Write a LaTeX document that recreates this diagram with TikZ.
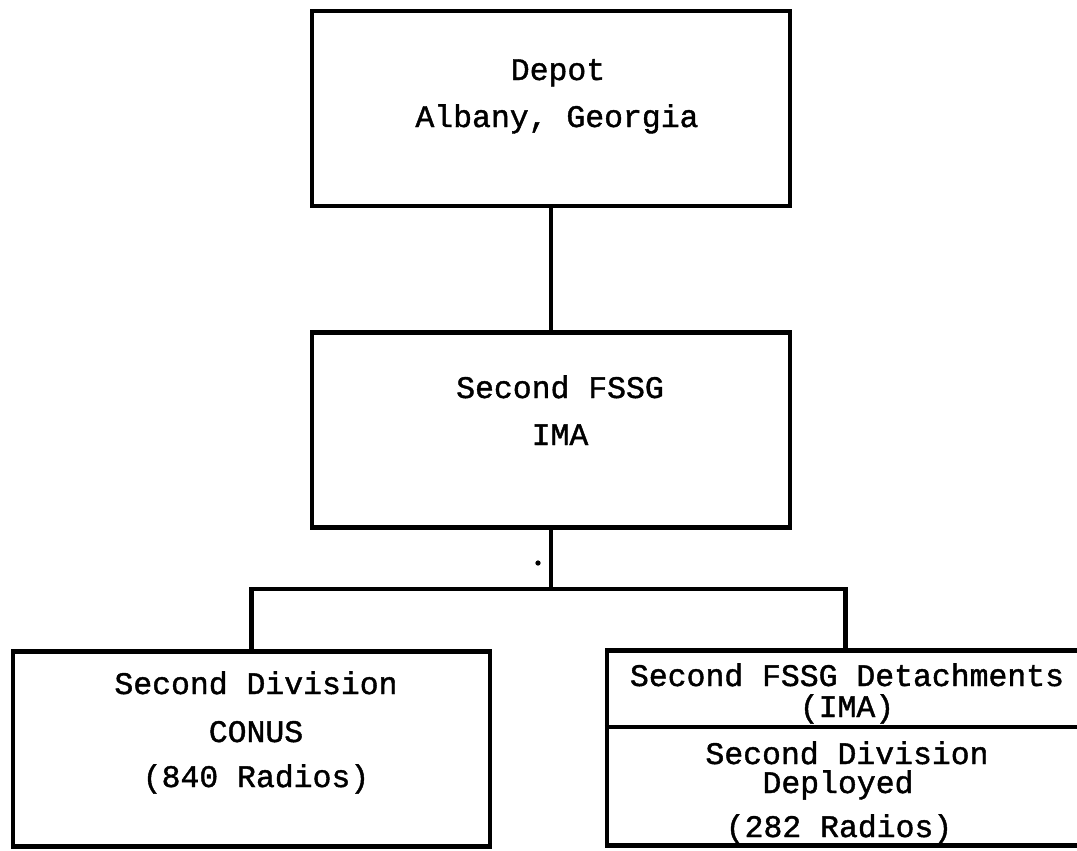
\documentclass[tikz,border=0pt]{standalone}
\usepackage{fontspec}
\usepackage{tikz}
\newfontfamily\typefont{Liberation Mono}[FakeBold=1.3]

\begin{document}
\begin{tikzpicture}[x=0.02cm,y=-0.02cm,
    box/.style={draw,line width=2.6pt,minimum width=9.56cm,minimum height=3.9cm,inner sep=0pt},
    lbl/.style={anchor=base,inner sep=0pt,font=\fontsize{17.9}{20}\typefont}]
    \useasboundingbox (0,0) rectangle (1077,850);

    % boxes
    \node[box] (depot) at (551,108.5) {};
    \node[box] (fssg) at (551,430) {};
    \node[box,minimum width=9.54cm] (conus) at (251.5,749) {};
    \node[box,minimum width=9.54cm] (deployed) at (845.5,748) {};
    \draw[line width=2.6pt] (deployed.west |- 0,727) -- (deployed.east |- 0,727);

    % texts
    \node[lbl] (tDepot) at (558,80) {Depot};
    \node[lbl] (tAlbany) at (557,127) {Albany, Georgia};
    \node[lbl] (tFssg) at (560,398) {Second FSSG};
    \node[lbl] (tIma) at (560,445) {IMA};
    \node[lbl] (tDiv) at (256,694) {Second Division};
    \node[lbl] (tConus) at (256,742) {CONUS};
    \node[lbl] (tRad) at (256,787) {(840 Radios)};
    \node[lbl] (tDet) at (847,686) {Second FSSG Detachments};
    \node[lbl] (tDetIma) at (847,717) {(IMA)};
    \node[lbl] (tDiv2) at (847,764) {Second Division};
    \node[lbl] (tDepl) at (838,793) {Deployed};
    \node[lbl] (tRad2) at (839,837) {(282 Radios)};

    % connectors
    \coordinate (fork) at (551,589);
    \draw[line width=2.6pt] (depot.south) -- (fssg.north);
    \draw[line width=2.6pt] (fssg.south) -- (fork);
    \draw[line width=2.6pt] (conus.north) |- (fork) -| (deployed.north);
    \fill (538,563) circle (1.5pt);

\end{tikzpicture}
\end{document}
